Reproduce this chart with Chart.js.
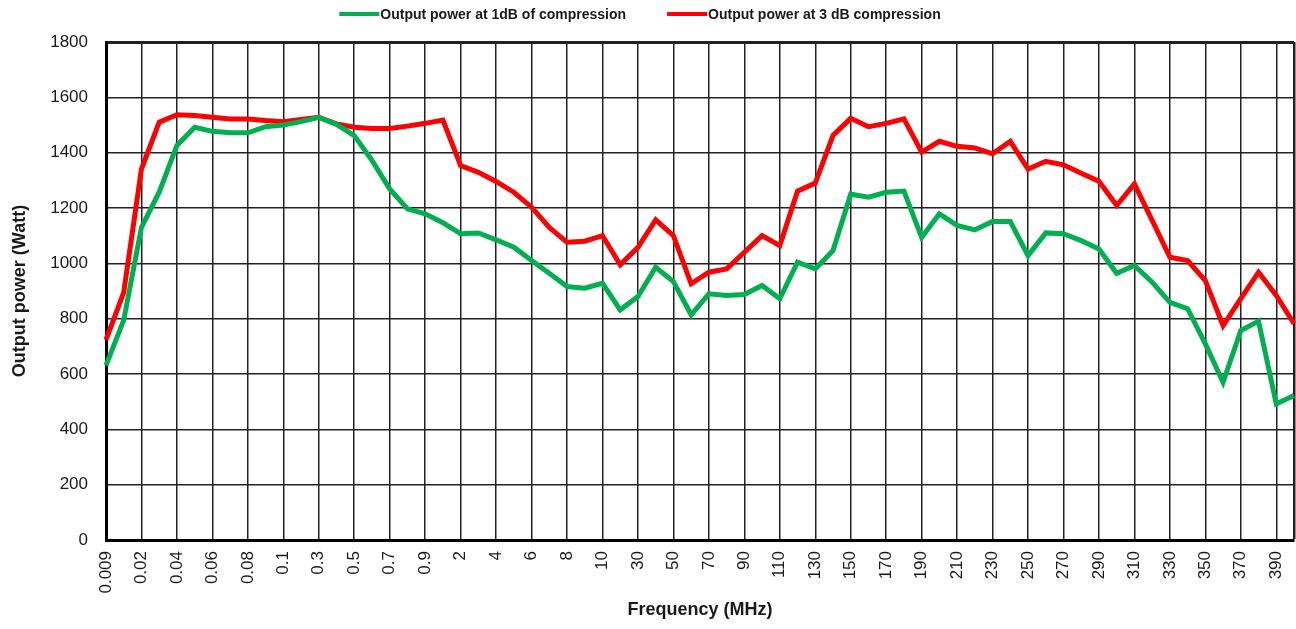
<!DOCTYPE html>
<html>
<head>
<meta charset="utf-8">
<script src="https://cdn.jsdelivr.net/npm/chart.js@4/dist/chart.umd.min.js"></script>
<style>
  html, body { margin: 0; padding: 0; background: #fff; }
  #wrap { width: 1296px; height: 629px; }
</style>
</head>
<body>
<div id="wrap"><canvas id="c" width="1296" height="629"></canvas></div>
<script>
const freqLabels = ['0.009','0.01','0.02','0.03','0.04','0.05','0.06','0.07','0.08','0.09',
  '0.1','0.2','0.3','0.4','0.5','0.6','0.7','0.8','0.9',
  '1','2','3','4','5','6','7','8','9',
  '10','20','30','40','50','60','70','80','90',
  '100','110','120','130','140','150','160','170','180','190','200',
  '210','220','230','240','250','260','270','280','290','300',
  '310','320','330','340','350','360','370','380','390','400'];

const power1dB = [631,795,1130,1257,1426,1492,1477,1472,1472,1494,
  1500,1512,1528,1502,1462,1372,1269,1197,1179,
  1147,1107,1110,1085,1058,1010,964,916,910,
  928,832,880,986,934,814,890,884,887,
  920,872,1004,980,1046,1250,1239,1257,1261,1094,1179,
  1137,1121,1151,1151,1028,1110,1107,1082,1052,964,
  992,932,859,836,709,570,757,791,492,522];

const power3dB = [723,895,1341,1510,1537,1534,1528,1522,1522,1516,
  1512,1520,1528,1504,1492,1487,1487,1496,1506,
  1518,1353,1329,1296,1257,1203,1130,1076,1080,
  1100,995,1058,1157,1100,926,968,980,1040,
  1100,1064,1261,1290,1462,1524,1494,1506,1522,1402,1441,
  1423,1417,1396,1441,1341,1369,1356,1326,1297,1209,
  1287,1155,1022,1010,938,775,872,968,884,782];

const seriesNames = ['Output power at 1dB of compression', 'Output power at 3 dB compression'];
const yTicks = { min: 0, max: 1800, step: 200 };

const FONT = "'Liberation Sans', Arial, sans-serif";
const TEXT = '#1a1a1a';

const legendPlugin = {
  id: 'customLegend',
  afterDraw(chart) {
    const ctx = chart.ctx;
    const sw = 40, gap = 1, spacing = 41, centerX = 640, y = 14;
    ctx.save();
    ctx.font = "bold 14px " + FONT;
    ctx.textBaseline = 'middle';
    ctx.textAlign = 'left';
    const items = chart.data.datasets.map(d => ({ label: d.label, color: d.borderColor, w: ctx.measureText(d.label).width }));
    let total = 0;
    items.forEach((it, i) => { total += sw + gap + it.w + (i < items.length - 1 ? spacing : 0); });
    let x = centerX - total / 2;
    items.forEach(it => {
      ctx.strokeStyle = it.color;
      ctx.lineWidth = 4;
      ctx.beginPath();
      ctx.moveTo(x, y);
      ctx.lineTo(x + sw, y);
      ctx.stroke();
      ctx.fillStyle = TEXT;
      ctx.fillText(it.label, x + sw + gap, y + 1);
      x += sw + gap + it.w + spacing;
    });
    ctx.restore();
  }
};

new Chart(document.getElementById('c'), {
  type: 'line',
  data: {
    labels: freqLabels,
    datasets: [
      { label: seriesNames[0], data: power1dB, borderColor: '#00B050', backgroundColor: '#00B050',
        borderWidth: 5, pointRadius: 0, tension: 0, fill: false },
      { label: seriesNames[1], data: power3dB, borderColor: '#FF0000', backgroundColor: '#FF0000',
        borderWidth: 5, pointRadius: 0, tension: 0, fill: false }
    ]
  },
  plugins: [legendPlugin],
  options: {
    responsive: false,
    animation: false,
    layout: { padding: { top: 42, right: 2, bottom: 0, left: 0 } },
    plugins: { legend: { display: false }, tooltip: { enabled: false } },
    scales: {
      x: {
        type: 'category',
        offset: false,
        grid: {
          drawTicks: false,
          color: (c) => (c.index % 2 === 0 || c.index === freqLabels.length - 1) ? '#222' : 'rgba(0,0,0,0)',
          lineWidth: (c) => c.index === freqLabels.length - 1 ? 2.5 : 1.5
        },
        border: { display: true, color: '#000', width: 3 },
        ticks: {
          autoSkip: false,
          maxRotation: 90,
          minRotation: 90,
          padding: 11,
          color: TEXT,
          font: { family: FONT, size: 17 },
          callback: function (v, i) { return i % 2 === 0 ? this.getLabelForValue(v) : ''; }
        },
        title: {
          display: true,
          text: 'Frequency (MHz)',
          color: TEXT,
          font: { family: FONT, size: 18, weight: 'bold' },
          padding: { top: 0, bottom: 8 }
        },
        afterFit: (s) => { s.height = 89; s.paddingLeft = 0; s.paddingRight = 0; }
      },
      y: {
        min: yTicks.min,
        max: yTicks.max,
        grid: {
          drawTicks: false,
          color: '#222',
          lineWidth: (c) => (c.tick && c.tick.value === yTicks.max) ? 3 : 1.5
        },
        border: { display: true, color: '#000', width: 3 },
        ticks: {
          stepSize: yTicks.step,
          padding: 18,
          color: TEXT,
          font: { family: FONT, size: 17 },
          callback: (v) => String(v)
        },
        title: {
          display: true,
          text: 'Output power (Watt)',
          color: TEXT,
          font: { family: FONT, size: 18, weight: 'bold' },
          padding: { top: 9, bottom: 0 }
        },
        afterFit: (s) => { s.width = 106; }
      }
    }
  }
});
</script>
</body>
</html>
